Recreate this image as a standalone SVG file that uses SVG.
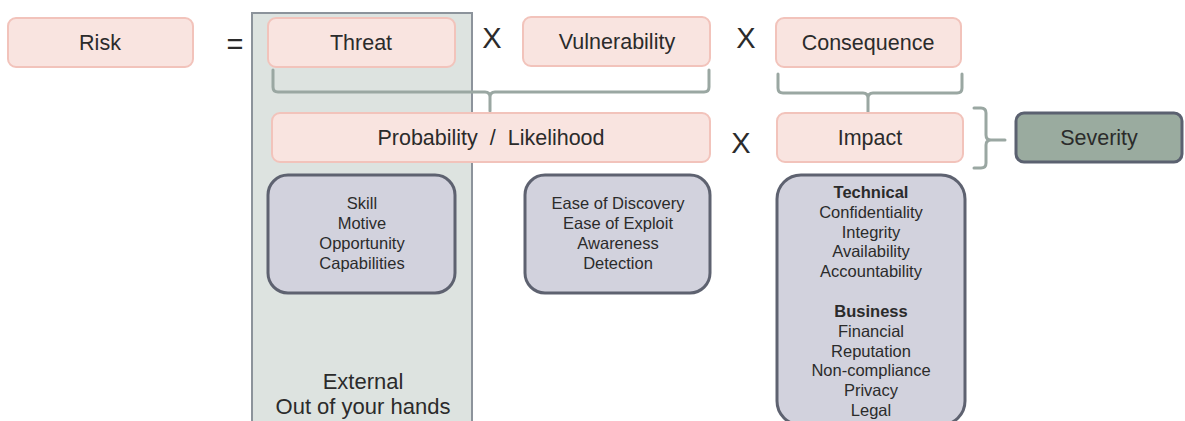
<svg xmlns="http://www.w3.org/2000/svg" width="1185" height="421" viewBox="0 0 1185 421">
  <defs>
    <style>
      text { font-family: "Liberation Sans", Arial, sans-serif; fill: #2b2b2b; text-anchor: middle; }
      .term { fill: #f9e4e0; stroke: #f2c3bb; stroke-width: 2; }
      .factor { fill: #d2d2dd; stroke: #5e6270; stroke-width: 3; }
      .result { fill: #9aab9f; stroke: #5b6170; stroke-width: 3; }
      .panel { fill: #dde3e0; stroke: #8c939b; stroke-width: 2; }
      .brace { fill: none; stroke: #9aa7a2; stroke-width: 3; stroke-linecap: round; stroke-linejoin: round; }
      .lbl { font-size: 21.5px; }
      .op { font-size: 29px; }
      .sm { font-size: 16.5px; }
      .hd { font-size: 16.5px; font-weight: bold; }
      .big { font-size: 22px; }
    </style>
  </defs>

  <!-- External zone behind the threat column -->
  <g id="external-zone">
    <rect class="panel" x="252" y="13" width="220" height="420"/>
    <text class="big" x="363" y="389">External</text>
    <text class="big" x="363" y="414">Out of your hands</text>
  </g>

  <!-- Operators -->
  <g id="operators">
    <text class="op" x="235" y="54">=</text>
    <text class="op" x="492" y="48">X</text>
    <text class="op" x="746" y="48">X</text>
    <text class="op" x="741" y="153">X</text>
  </g>

  <!-- Top row -->
  <g id="risk">
    <rect class="term" x="8" y="18" width="185" height="49" rx="8"/>
    <text class="lbl" x="100" y="50">Risk</text>
  </g>
  <g id="threat">
    <rect class="term" x="268" y="18" width="187" height="49" rx="8"/>
    <text class="lbl" x="361" y="50">Threat</text>
  </g>
  <g id="vulnerability">
    <rect class="term" x="523" y="17" width="187" height="49" rx="8"/>
    <text class="lbl" x="617" y="49">Vulnerability</text>
  </g>
  <g id="consequence">
    <rect class="term" x="776" y="18" width="185" height="49" rx="8"/>
    <text class="lbl" x="868" y="50">Consequence</text>
  </g>

  <!-- Braces grouping the terms -->
  <g id="connectors">
    <path class="brace" d="M273,70 V87 Q273,92 278,92 H485 Q490,92 490,97 V111 M490,97 Q490,92 495,92 H704 Q709,92 709,87 V70"/>
    <path class="brace" d="M778,74 V88 Q778,93 783,93 H863 Q868,93 868,98 V112 M868,98 Q868,93 873,93 H957 Q962,93 962,88 V74"/>
    <path class="brace" d="M974,108 H981 Q986,108 986,113 V135 Q986,140 991,140 H1005 M991,140 Q986,140 986,145 V163 Q986,168 981,168 H974"/>
  </g>

  <!-- Middle row -->
  <g id="probability">
    <rect class="term" x="272" y="113" width="438" height="49" rx="8"/>
    <text class="lbl" x="491" y="145" xml:space="preserve">Probability  /  Likelihood</text>
  </g>
  <g id="impact">
    <rect class="term" x="777" y="113" width="186" height="49" rx="8"/>
    <text class="lbl" x="870" y="145">Impact</text>
  </g>
  <g id="severity">
    <rect class="result" x="1016" y="113" width="166" height="49" rx="8"/>
    <text class="lbl" x="1099" y="145">Severity</text>
  </g>

  <!-- Factor lists -->
  <g id="threat-factors">
    <rect class="factor" x="268" y="175" width="187" height="118" rx="20"/>
    <text class="sm" x="362" y="209">Skill</text>
    <text class="sm" x="362" y="229">Motive</text>
    <text class="sm" x="362" y="249">Opportunity</text>
    <text class="sm" x="362" y="269">Capabilities</text>
  </g>
  <g id="vulnerability-factors">
    <rect class="factor" x="525" y="175" width="185" height="118" rx="20"/>
    <text class="sm" x="618" y="209">Ease of Discovery</text>
    <text class="sm" x="618" y="229">Ease of Exploit</text>
    <text class="sm" x="618" y="249">Awareness</text>
    <text class="sm" x="618" y="269">Detection</text>
  </g>
  <g id="impact-factors">
    <rect class="factor" x="777" y="175" width="188" height="250" rx="24"/>
    <text class="hd" x="871" y="198">Technical</text>
    <text class="sm" x="871" y="218">Confidentiality</text>
    <text class="sm" x="871" y="237.5">Integrity</text>
    <text class="sm" x="871" y="257">Availability</text>
    <text class="sm" x="871" y="277">Accountability</text>
    <text class="hd" x="871" y="317">Business</text>
    <text class="sm" x="871" y="337">Financial</text>
    <text class="sm" x="871" y="356.5">Reputation</text>
    <text class="sm" x="871" y="376">Non-compliance</text>
    <text class="sm" x="871" y="396">Privacy</text>
    <text class="sm" x="871" y="415.5">Legal</text>
  </g>
</svg>
